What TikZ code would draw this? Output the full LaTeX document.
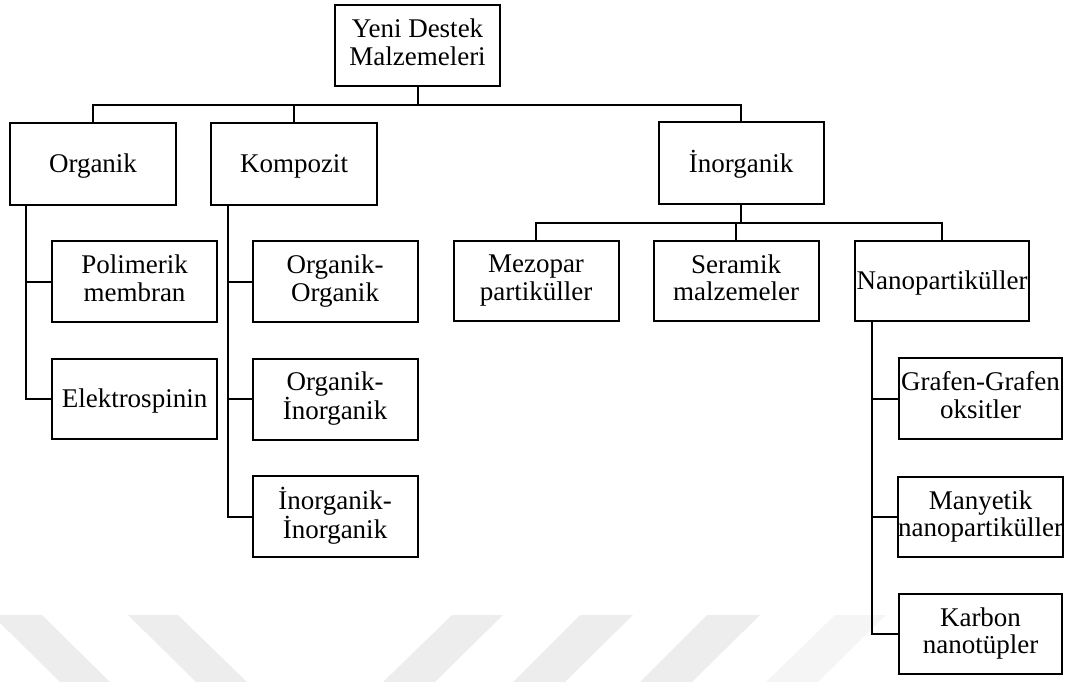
\documentclass[tikz,border=0pt]{standalone}
\usepackage{fontspec}
\setmainfont{Liberation Serif}
\newcommand\boxstrut{\rule[-7pt]{0pt}{31.8pt}}
\begin{document}
\begin{tikzpicture}[x=1pt,y=-1pt,
  box/.style={draw, line width=2pt, rectangle, inner sep=0pt, align=center,
    minimum width=165pt, minimum height=81pt,
    font=\fontsize{27}{27.5}\selectfont,
    execute at begin node=\boxstrut, execute at end node=\boxstrut},
  conn/.style={line width=2pt},
  wm/.style={fill=black!7, draw=none},
  wmlight/.style={fill=black!4, draw=none}]
\useasboundingbox (0,0) rectangle (1069,682);
% watermark stripes
\fill[wm] (-8,615) -- (42,615) -- (110,682) -- (60,682) -- cycle;
\fill[wm] (128,615) -- (178,615) -- (247,682) -- (196,682) -- cycle;
\fill[wm] (452,615) -- (503,615) -- (435,682) -- (383,682) -- cycle;
\fill[wm] (580,615) -- (633,615) -- (565,682) -- (513,682) -- cycle;
\fill[wm] (707,615) -- (760,615) -- (692,682) -- (640,682) -- cycle;
\fill[wmlight] (835,615) -- (886,615) -- (818,682) -- (766,682) -- cycle;
% nodes
\node[box] (top) at (417.5,45.5) {Yeni Destek\\Malzemeleri};
\node[box, minimum width=166pt, minimum height=82pt] (org) at (93,164) {Organik};
\node[box, minimum width=166pt, minimum height=82pt] (komp) at (294,164) {Kompozit};
\node[box, minimum height=82pt] (inorg) at (741,163.5) {İnorganik};
\node[box] (poli) at (134.5,281.5) {Polimerik\\membran};
\node[box, minimum height=80pt] (elek) at (134.5,399) {Elektrospinin};
\node[box] (oo) at (335,281.5) {Organik-\\Organik};
\node[box] (oi) at (335,399) {Organik-\\İnorganik};
\node[box] (ii) at (335,516.5) {İnorganik-\\İnorganik};
\node[box, minimum height=80pt] (mezo) at (536,281) {Mezopar\\partiküller};
\node[box, minimum height=80pt] (sera) at (736,281) {Seramik\\malzemeler};
\node[box, minimum width=174pt, minimum height=80pt] (nano) at (942,281) {Nanopartiküller};
\node[box, minimum width=163pt] (graf) at (980.5,398.5) {Grafen-Grafen\\oksitler};
\node[box, minimum width=163pt, minimum height=80pt] (many) at (980.5,517) {Manyetik\\nanopartiküller};
\node[box, minimum width=163pt, minimum height=80pt] (karb) at (980.5,634) {Karbon\\nanotüpler};
% connectors level 1
\coordinate (b1) at (417.5,105);
\draw[conn] (top.south) -- (b1);
\draw[conn] (org.north) |- (b1) -| (inorg.north);
\draw[conn] (komp.north) -- (komp.north |- b1);
% organik
\draw[conn] ([xshift=17pt]org.south west) coordinate (o1) |- (elek.west);
\draw[conn] (poli.west) -- (o1 |- poli.west);
% kompozit
\draw[conn] ([xshift=18pt]komp.south west) coordinate (k1) |- (ii.west);
\draw[conn] (oo.west) -- (k1 |- oo.west);
\draw[conn] (oi.west) -- (k1 |- oi.west);
% inorganik
\coordinate (b2) at (741,223);
\draw[conn] (inorg.south) -- (b2);
\draw[conn] (mezo.north) |- (b2) -| (nano.north);
\draw[conn] (sera.north) -- (sera.north |- b2);
% nano
\draw[conn] ([xshift=18pt]nano.south west) coordinate (n1) |- (karb.west);
\draw[conn] (graf.west) -- (n1 |- graf.west);
\draw[conn] (many.west) -- (n1 |- many.west);
\end{tikzpicture}
\end{document}
